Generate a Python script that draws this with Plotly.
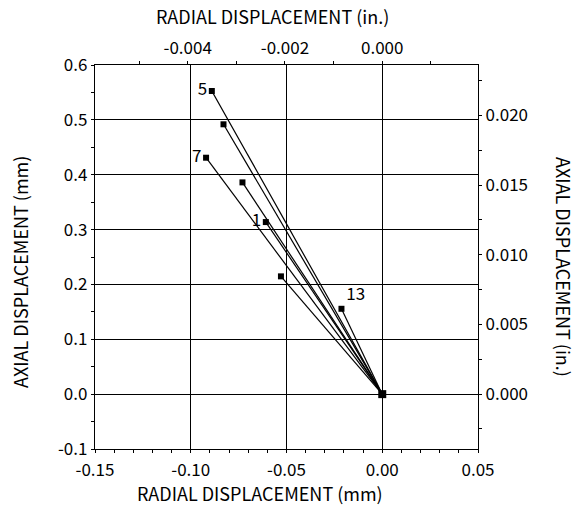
import plotly.graph_objects as go

# data (mm)
radial_mm = [-0.0890, -0.0829, -0.0920, -0.0730, -0.0608, -0.0529, -0.0213]
axial_mm = [0.5526, 0.4919, 0.431, 0.386, 0.3137, 0.2147, 0.1556]
point_labels = ["5", "", "7", "", "1", "", "13"]
label_pos = ["middle left", "middle left", "middle left", "middle left", "middle left", "middle left", "top right"]
MM_PER_IN = 25.4

# tick values / labels
x_mm_ticks = [-0.15, -0.10, -0.05, 0.00, 0.05]
x_mm_text = ["-0.15", "-0.10", "-0.05", "0.00", "0.05"]
y_mm_ticks = [-0.1, 0.0, 0.1, 0.2, 0.3, 0.4, 0.5, 0.6]
y_mm_text = ["-0.1", "0.0", "0.1", "0.2", "0.3", "0.4", "0.5", "0.6"]
x_in_ticks = [-0.004, -0.002, 0.000]
x_in_text = ["-0.004", "-0.002", "0.000"]
y_in_ticks = [0.000, 0.005, 0.010, 0.015, 0.020]
y_in_text = ["0.000", "0.005", "0.010", "0.015", "0.020"]

FONT = "Noto Sans CJK JP"
fig = go.Figure()

for x, y in zip(radial_mm, axial_mm):
    fig.add_trace(go.Scatter(x=[x, 0], y=[y, 0], mode="lines",
                             line=dict(color="black", width=1.2), showlegend=False,
                             hoverinfo="skip"))

fig.add_trace(go.Scatter(x=radial_mm, y=axial_mm, mode="markers+text",
                         text=point_labels, textposition=label_pos,
                         textfont=dict(family=FONT, size=17, color="black"),
                         marker=dict(symbol="square", size=6, color="black"),
                         showlegend=False))
fig.add_trace(go.Scatter(x=[0], y=[0], mode="markers",
                         marker=dict(symbol="square", size=8, color="black"),
                         showlegend=False))
fig.add_trace(go.Scatter(x=[0], y=[0], xaxis="x2", yaxis="y2", mode="markers",
                         marker=dict(opacity=0), showlegend=False, hoverinfo="skip"))

xr = [-0.15, 0.05]
yr = [-0.1, 0.6]
tickfont = dict(family=FONT, size=17, color="black")
common = dict(zeroline=False, showline=True, linecolor="black", linewidth=1.3,
              ticks="outside", ticklen=3, tickcolor="black", tickfont=tickfont,
              automargin=False)

fig.update_layout(
    width=577, height=506,
    margin=dict(l=95, r=99, t=65, b=57),
    plot_bgcolor="white", paper_bgcolor="white",
    font=dict(family=FONT, color="black"),
    xaxis=dict(range=xr, tickvals=x_mm_ticks, ticktext=x_mm_text,
               showgrid=True, gridcolor="black", gridwidth=1, ticklabelstandoff=2,
               minor=dict(dtick=0.01, tick0=0, ticks="outside", ticklen=3, tickcolor="black"),
               **common),
    yaxis=dict(range=yr, tickvals=y_mm_ticks, ticktext=y_mm_text,
               showgrid=True, gridcolor="black", gridwidth=1,
               minor=dict(dtick=0.05, tick0=0, ticks="outside", ticklen=3, tickcolor="black"),
               **common),
    xaxis2=dict(range=[v / MM_PER_IN for v in xr], overlaying="x", side="top",
                anchor="y", tickvals=x_in_ticks, ticktext=x_in_text, showgrid=False,
                minor=dict(dtick=0.001, tick0=0, ticks="outside", ticklen=3, tickcolor="black"),
                **common),
    yaxis2=dict(range=[v / MM_PER_IN for v in yr], overlaying="y", side="right",
                anchor="x", tickvals=y_in_ticks, ticktext=y_in_text, showgrid=False,
                minor=dict(dtick=0.0025, tick0=0, ticks="outside", ticklen=3, tickcolor="black"),
                **common),
)

L, R, T, B = 95, 99, 65, 57
pw, ph = 577 - L - R, 506 - T - B
titles = [("RADIAL DISPLACEMENT (mm)", 260, 493, 0),
          ("RADIAL DISPLACEMENT (in.)", 272, 16, 0),
          ("AXIAL DISPLACEMENT (mm)", 20, 272, -90),
          ("AXIAL DISPLACEMENT (in.)", 564, 267, 90)]
for txt, px, py, ang in titles:
    fig.add_annotation(text=txt, x=(px - L) / pw, y=(506 - B - py) / ph,
                       xref="paper", yref="paper", showarrow=False, textangle=ang,
                       font=dict(family=FONT, size=18, color="black"),
                       xanchor="center", yanchor="middle")

fig.write_html("out.html", config={"displayModeBar": False},
               post_script="document.body.style.margin='0';")
